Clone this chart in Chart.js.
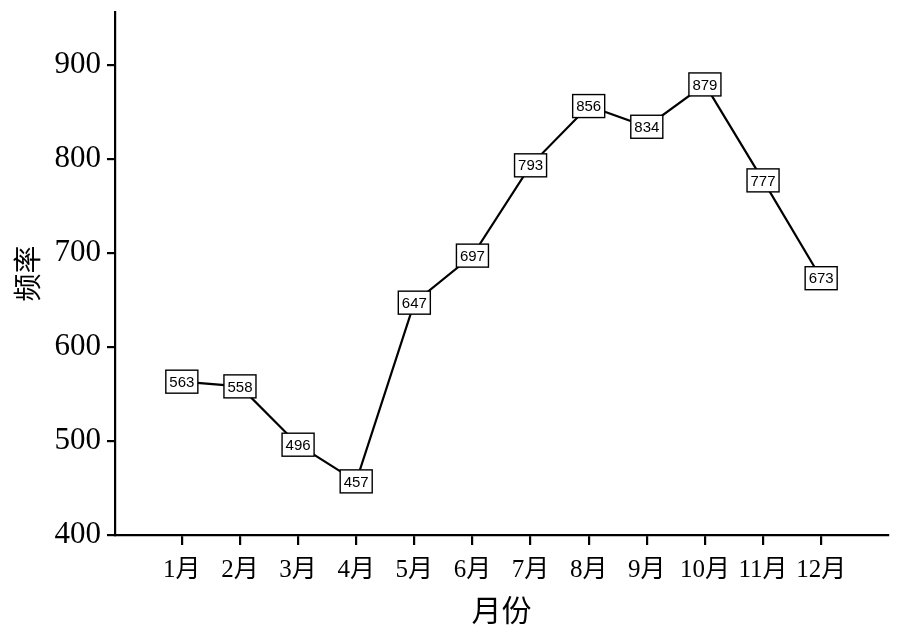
<!DOCTYPE html>
<html>
<head>
<meta charset="utf-8">
<script src="https://cdn.jsdelivr.net/npm/chart.js@4"></script>
<style>
  html, body { margin: 0; padding: 0; background: #fff; }
  #wrap { width: 910px; height: 637px; }
</style>
</head>
<body>
<div id="wrap"><canvas id="lineChart"></canvas></div>
<script>
// data
const months = ['1月', '2月', '3月', '4月', '5月', '6月', '7月', '8月', '9月', '10月', '11月', '12月'];
const freq = [563, 558, 496, 457, 647, 697, 793, 856, 834, 879, 777, 673];
const yTicks = [400, 500, 600, 700, 800, 900];

const serif = "'Liberation Serif', 'Noto Sans CJK SC', serif";

// boxed value labels on each point
const boxLabels = {
  id: 'boxLabels',
  afterDatasetsDraw(chart) {
    const ctx = chart.ctx;
    const meta = chart.getDatasetMeta(0);
    ctx.save();
    ctx.font = "15px 'Liberation Sans', Arial, sans-serif";
    ctx.textAlign = 'center';
    ctx.textBaseline = 'middle';
    meta.data.forEach((pt, i) => {
      const txt = String(freq[i]);
      const w = ctx.measureText(txt).width + 7;
      const h = 23;
      ctx.fillStyle = '#fff';
      ctx.fillRect(pt.x - w / 2, pt.y - h / 2, w, h);
      ctx.strokeStyle = '#000';
      ctx.lineWidth = 1.4;
      ctx.strokeRect(pt.x - w / 2, pt.y - h / 2, w, h);
      ctx.fillStyle = '#000';
      ctx.fillText(txt, pt.x, pt.y + 1);
    });
    ctx.restore();
  }
};

var ctxLine = document.getElementById('lineChart').getContext('2d');
var lineChart = new Chart(ctxLine, {
  type: 'line',
  data: {
    datasets: [{
      data: freq.map((v, i) => ({ x: i, y: v })),
      borderColor: '#000',
      borderWidth: 2.2,
      pointRadius: 0,
      tension: 0
    }]
  },
  options: {
    responsive: true,
    maintainAspectRatio: false,
    animation: false,
    layout: { padding: { top: 12, right: 22, left: 0, bottom: 0 } },
    plugins: { legend: { display: false }, tooltip: { enabled: false } },
    scales: {
      x: {
        type: 'linear',
        min: -1.15,
        max: 12.15,
        afterBuildTicks: s => { s.ticks = months.map((m, i) => ({ value: i })); },
        afterFit: s => { s.height = 102; },
        border: { color: '#000', width: 2.2 },
        grid: { drawOnChartArea: false, color: '#000', lineWidth: 2.2, tickLength: 10 },
        ticks: {
          color: '#000',
          font: { family: serif, size: 25 },
          padding: 10,
          maxRotation: 0,
          autoSkip: false,
          callback: v => months[v]
        },
        title: {
          display: true,
          text: '月份',
          color: '#000',
          font: { family: serif, size: 30 },
          padding: { top: 0, bottom: 6 }
        }
      },
      y: {
        min: 400,
        max: 956,
        afterBuildTicks: s => { s.ticks = yTicks.map(v => ({ value: v })); },
        afterFit: s => { s.width = 115; s.paddingTop = 0; s.paddingBottom = 0; },
        border: { color: '#000', width: 2.2 },
        grid: { drawOnChartArea: false, color: '#000', lineWidth: 2.2, tickLength: 8 },
        ticks: {
          color: '#000',
          font: { family: serif, size: 31 },
          padding: 6
        },
        title: {
          display: true,
          text: '频率',
          color: '#000',
          font: { family: serif, size: 28 },
          padding: { top: 14, bottom: 0 }
        }
      }
    }
  },
  plugins: [boxLabels]
});
</script>
</body>
</html>
